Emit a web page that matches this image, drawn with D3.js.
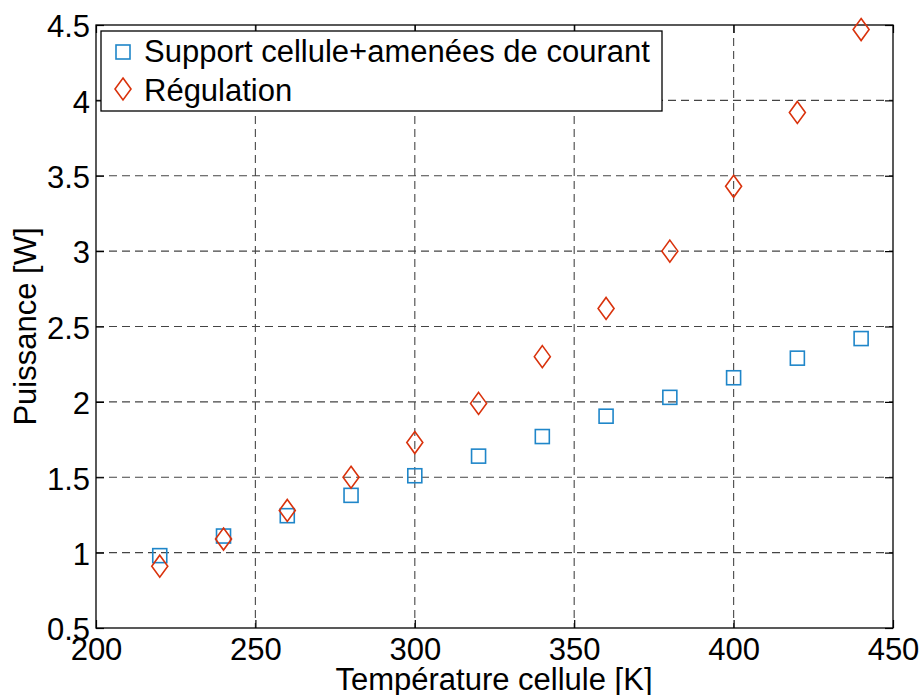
<!DOCTYPE html>
<html><head><meta charset="utf-8">
<script src="https://cdn.jsdelivr.net/npm/d3@7"></script>
<style>body{margin:0;background:#fff}svg{display:block}text{font-family:"Liberation Sans",Arial,sans-serif;fill:#000}</style>
</head><body><div id="chart"></div>
<script>
const temperatures = [220,240,260,280,300,320,340,360,380,400,420,440];
const supportValues = [0.98,1.11,1.245,1.38,1.51,1.64,1.77,1.905,2.03,2.16,2.29,2.42];
const regulationValues = [0.91,1.09,1.28,1.50,1.73,1.99,2.30,2.62,3.00,3.43,3.92,4.47];
const xTicks = [200,250,300,350,400,450];
const yTicks = [0.5,1,1.5,2,2.5,3,3.5,4,4.5];
const seriesNames = ["Support cellule+amenées de courant","Régulation"];

const W=921,H=695;
const L=96,R=893,T=25,B=628;
const svg=d3.select("#chart").append("svg").attr("width",W).attr("height",H);
const x=d3.scaleLinear().domain([200,450]).range([L,R]);
const y=d3.scaleLinear().domain([0.5,4.5]).range([B,T]);
const fs=31;

// grid
const g=svg.append("g");
g.selectAll(".gx").data(xTicks.slice(1,-1)).enter().append("line")
 .attr("x1",d=>x(d)).attr("x2",d=>x(d)).attr("y1",T).attr("y2",B)
 .attr("stroke","#555").attr("stroke-width",1.2).attr("stroke-dasharray","8,5");
g.selectAll(".gy").data(yTicks.slice(1,-1)).enter().append("line")
 .attr("y1",d=>y(d)).attr("y2",d=>y(d)).attr("x1",L).attr("x2",R)
 .attr("stroke","#444").attr("stroke-width",1.2).attr("stroke-dasharray","8,5");

// box
svg.append("rect").attr("x",L).attr("y",T).attr("width",R-L).attr("height",B-T)
 .attr("fill","none").attr("stroke","#000").attr("stroke-width",1.3);

// axes
const xa=svg.append("g").attr("transform",`translate(0,${B})`)
 .call(d3.axisBottom(x).tickValues(xTicks).tickSize(-8).tickPadding(10).tickFormat(d3.format("d")));
const ya=svg.append("g").attr("transform",`translate(${L},0)`)
 .call(d3.axisLeft(y).tickValues(yTicks).tickSize(-8).tickPadding(6).tickFormat(d=>String(d)));
const xt=svg.append("g").attr("transform",`translate(0,${T})`)
 .call(d3.axisTop(x).tickValues(xTicks).tickSize(-8).tickFormat(""));
const yr=svg.append("g").attr("transform",`translate(${R},0)`)
 .call(d3.axisRight(y).tickValues(yTicks).tickSize(-8).tickFormat(""));
[xa,ya,xt,yr].forEach(a=>{a.select(".domain").remove();a.selectAll(".tick line").attr("stroke","#000").attr("stroke-width",1.2);
 a.selectAll("text").style("font-size",fs+"px").style("font-family","'Liberation Sans',Arial,sans-serif").attr("fill","#000");});
ya.selectAll("text").attr("dy","0.38em");
xa.selectAll("text").attr("dy","0.71em");

// axis labels
svg.append("text").attr("x",494).attr("y",690).attr("text-anchor","middle").style("font-size",fs+"px").text("Température cellule [K]");
svg.append("text").attr("transform",`translate(36,${(T+B)/2}) rotate(-90)`).attr("text-anchor","middle").style("font-size",fs+"px").text("Puissance [W]");

const blue="#1f86c9", red="#d9320c";
const sq=14;
function square(sel,cx,cy){sel.append("rect").attr("x",cx-sq/2).attr("y",cy-sq/2).attr("width",sq).attr("height",sq).attr("fill","none").attr("stroke",blue).attr("stroke-width",1.6);}
function diamond(sel,cx,cy){sel.append("path").attr("d",`M${cx},${cy-11}L${cx+8},${cy}L${cx},${cy+11}L${cx-8},${cy}Z`).attr("fill","none").attr("stroke",red).attr("stroke-width",1.6);}

const m=svg.append("g");
temperatures.forEach((t,i)=>square(m,x(t),y(supportValues[i])));
temperatures.forEach((t,i)=>diamond(m,x(t),y(regulationValues[i])));

// legend
const lg=svg.append("g");
lg.append("rect").attr("x",101).attr("y",31).attr("width",561).attr("height",80).attr("fill","#fff").attr("stroke","#000").attr("stroke-width",1.3);
square(lg,123,52); diamond(lg,123,89);
lg.append("text").attr("x",144).attr("y",62).style("font-size",fs+"px").text(seriesNames[0]);
lg.append("text").attr("x",144).attr("y",101).style("font-size",fs+"px").text(seriesNames[1]);
</script></body></html>
